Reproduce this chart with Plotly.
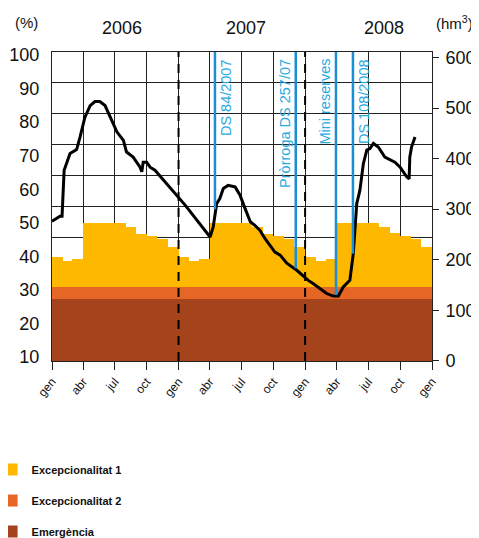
import plotly.graph_objects as go
import pandas as pd

# ---------------- data ----------------
YEARS = ["2006", "2007", "2008"]
YEAR_LABEL_POS = ["2006-07-22", "2007-07-14", "2008-08-15"]
QUARTER_TICKS = ["2006-01-01", "2006-04-01", "2006-07-01", "2006-10-01",
                 "2007-01-01", "2007-04-01", "2007-07-01", "2007-10-01",
                 "2008-01-01", "2008-04-01", "2008-07-01", "2008-10-01",
                 "2009-01-01"]
QUARTER_LABELS = ["gen", "abr", "jul", "oct",
                  "gen", "abr", "jul", "oct",
                  "gen", "abr", "jul", "oct",
                  "gen"]
YEAR_BOUNDARIES = ["2007-01-01", "2008-01-01"]

# monthly thresholds (hm3), Jan 2006 .. Dec 2008
EXC1 = [205, 198, 201, 272, 272, 272, 272, 264, 251, 246, 241, 226,
        205, 198, 201, 272, 272, 272, 272, 264, 251, 246, 241, 226,
        206, 198, 201, 272, 272, 272, 272, 265, 252, 246, 241, 225]
EXC2 = [145, 145, 145, 145, 145, 145, 145, 145, 145, 145, 145, 145,
        145, 145, 145, 145, 145, 145, 145, 145, 145, 145, 145, 145,
        145, 145, 145, 145, 145, 145, 145, 145, 145, 145, 145, 145]
EMERG = [122, 122, 122, 122, 122, 122, 122, 122, 122, 122, 122, 122,
         122, 122, 122, 122, 122, 122, 122, 122, 122, 122, 122, 122,
         122, 122, 122, 122, 122, 122, 122, 122, 122, 122, 122, 122]

# reservoir volume (hm3)
VOL_DATES = ["2006-01-01", "2006-01-14", "2006-01-24", "2006-01-30", "2006-02-05",
             "2006-02-22", "2006-03-13", "2006-03-23", "2006-04-06", "2006-04-21",
             "2006-05-05", "2006-05-19", "2006-06-03", "2006-06-22", "2006-07-07",
             "2006-07-26", "2006-08-04", "2006-08-23", "2006-09-12", "2006-09-17",
             "2006-09-21", "2006-10-01", "2006-10-11", "2006-10-25", "2007-01-20",
             "2007-04-02", "2007-04-06", "2007-04-11", "2007-04-21", "2007-04-30",
             "2007-05-10", "2007-05-24", "2007-06-13", "2007-06-27", "2007-07-12",
             "2007-07-27", "2007-08-09", "2007-08-24", "2007-09-07", "2007-09-22",
             "2007-10-06", "2007-10-21", "2007-11-09", "2007-12-08", "2008-01-10",
             "2008-01-24", "2008-03-03", "2008-03-22", "2008-04-06", "2008-04-20",
             "2008-05-09", "2008-05-19", "2008-05-29", "2008-06-07", "2008-06-17",
             "2008-06-27", "2008-07-06", "2008-07-16", "2008-07-30", "2008-08-18",
             "2008-09-02", "2008-09-16", "2008-10-01", "2008-10-20", "2008-10-27",
             "2008-10-29", "2008-11-03", "2008-11-13"]
VOL_HM3 = [276, 281, 286, 286, 377,
           410, 418, 443, 482, 505,
           513, 513, 505, 476, 453,
           436, 413, 403, 383, 374,
           393, 393, 383, 377, 308,
           245, 255, 265, 311, 321,
           341, 347, 344, 328, 301,
           275, 268, 258, 242, 229,
           215, 209, 193, 179, 159,
           153, 133, 128, 128, 146,
           159, 212, 311, 337, 390,
           417, 420, 430, 423, 403,
           397, 393, 383, 364, 360,
           403, 423, 443]

EVENT_NAMES = ["DS 84/2007", "Pròrroga DS 257/07", "Mini reserves", "DS 108/2008"]
EVENT_DATES = ["2007-04-16", "2007-12-05", "2008-03-30", "2008-05-18"]
EVENT_LEVEL = [300, 183, 130, 212]
EVENT_TEXT_SIDE = ["right", "left", "left", "right"]

# ---------------- styling ----------------
FONT = "Liberation Sans, Arial, Helvetica, sans-serif"
C_EXC1 = "#FFB800"
C_EXC2 = "#E56625"
C_EMERG = "#A5431C"
C_BLUE_LINE = "#1C8ED3"
C_BLUE_TEXT = "#29A9E1"
Y2_RANGE = [-0.5, 611]

months = pd.date_range("2006-01-01", periods=36, freq="MS")
widths = [((m + pd.offsets.MonthBegin(1)) - m).days * 86400000 for m in months]

fig = go.Figure()

# invisible helper to activate the left axis
fig.add_trace(go.Scatter(x=["2006-01-01"], y=[50], mode="markers", marker=dict(opacity=0),
                         showlegend=False, hoverinfo="skip", yaxis="y"))

for name, vals, col in [("Excepcionalitat 1", EXC1, C_EXC1),
                        ("Excepcionalitat 2", EXC2, C_EXC2),
                        ("Emergència", EMERG, C_EMERG)]:
    fig.add_trace(go.Bar(x=months, y=vals, width=widths, offset=0, name=name,
                         marker=dict(color=col, line=dict(width=0)),
                         yaxis="y2", legendgroup=name))

fig.add_trace(go.Scatter(x=VOL_DATES, y=VOL_HM3, mode="lines",
                         line=dict(color="black", width=3), showlegend=False,
                         yaxis="y2"))

# invisible helper to activate the grid axis
fig.add_trace(go.Scatter(x=["2006-01-01"], y=[5], mode="markers", marker=dict(opacity=0),
                         showlegend=False, hoverinfo="skip", yaxis="y3"))

shapes = []
for d in YEAR_BOUNDARIES:
    shapes.append(dict(type="line", xref="x", yref="paper", x0=d, x1=d, y0=0, y1=1,
                       line=dict(color="black", width=2, dash="9px,7px")))
for d, lvl in zip(EVENT_DATES, EVENT_LEVEL):
    shapes.append(dict(type="line", xref="x", yref="y2", x0=d, x1=d, y0=lvl, y1=Y2_RANGE[1],
                       line=dict(color=C_BLUE_LINE, width=2.5)))

annotations = []
for name, d, side in zip(EVENT_NAMES, EVENT_DATES, EVENT_TEXT_SIDE):
    annotations.append(dict(text=name, x=d, xref="x", y=0.985, yref="paper",
                            textangle=-90, showarrow=False,
                            xanchor="left" if side == "right" else "right",
                            xshift=1 if side == "right" else -1,
                            yanchor="top",
                            font=dict(family=FONT, size=14.5, color=C_BLUE_TEXT)))
for yr, pos in zip(YEARS, YEAR_LABEL_POS):
    annotations.append(dict(text=yr, x=pos, xref="x", y=1.078, yref="paper",
                            showarrow=False, xanchor="center", yanchor="middle",
                            font=dict(family=FONT, size=18, color="#111")))
annotations.append(dict(text="(%)", x=-0.066, xref="paper", y=1.097, yref="paper",
                        showarrow=False, xanchor="center", yanchor="middle",
                        font=dict(family=FONT, size=15, color="#111")))
annotations.append(dict(text="(hm<sup>3</sup>)", x=1.06, xref="paper", y=1.097, yref="paper",
                        showarrow=False, xanchor="center", yanchor="middle",
                        font=dict(family=FONT, size=15, color="#111")))

# the page adds an 8px body margin, so the figure is sized to fit the window
fig.update_layout(
    width=471, height=530,
    margin=dict(l=44, r=47, t=44, b=177, autoexpand=False),
    paper_bgcolor="white", plot_bgcolor="white",
    barmode="overlay", bargap=0,
    font=dict(family=FONT, color="#111"),
    shapes=shapes, annotations=annotations,
    showlegend=True,
    legend=dict(x=-0.159, xanchor="left", y=-0.304, yanchor="top",
                font=dict(family=FONT, size=11, color="#111", weight="bold"),
                traceorder="grouped", tracegroupgap=12, bgcolor="rgba(0,0,0,0)"),
    xaxis=dict(type="date", range=["2006-01-01", "2009-01-01"], automargin=False,
               tickmode="array", tickvals=QUARTER_TICKS, ticktext=QUARTER_LABELS,
               tickangle=-50, tickfont=dict(family=FONT, size=12, color="#111"),
               showgrid=True, gridcolor="#222", gridwidth=1,
               ticks="outside", ticklen=8, tickcolor="#222",
               showline=True, linecolor="#222", linewidth=1, mirror=True,
               zeroline=False),
    yaxis=dict(range=[8.8, 100.9], tickmode="array", tickvals=list(range(10, 101, 10)),
               automargin=False,
               tickfont=dict(family=FONT, size=18, color="#111"),
               showgrid=False, zeroline=False, showline=True, linecolor="#222",
               ticks="", ticklabelstandoff=8),
    yaxis2=dict(overlaying="y", side="right", range=Y2_RANGE, automargin=False,
                tickmode="array", tickvals=[0, 100, 200, 300, 400, 500, 600],
                tickfont=dict(family=FONT, size=18, color="#111"),
                showgrid=False, zeroline=False, showline=True, linecolor="#222",
                ticks="outside", ticklen=6, tickcolor="#222", ticklabelstandoff=3),
    yaxis3=dict(overlaying="y", side="left", range=[0, 10], dtick=1, automargin=False,
                showgrid=True, gridcolor="#222", gridwidth=1,
                showticklabels=False, zeroline=False, showline=False, ticks=""),
)

fig.write_html("out.html")
